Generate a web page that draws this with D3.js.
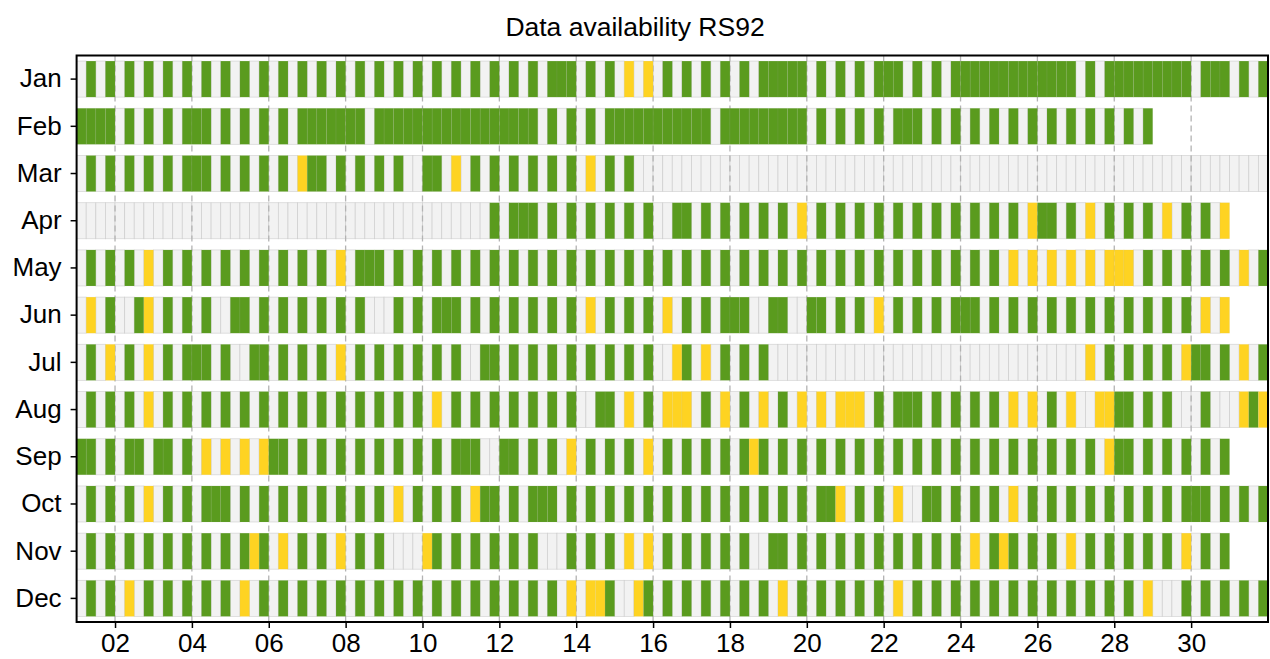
<!DOCTYPE html>
<html>
<head>
<meta charset="utf-8">
<title>Data availability RS92</title>
<script src="https://d3js.org/d3.v7.min.js"></script>
<style>
  body { margin: 0; background: #fff; }
  svg text { font-family: "Liberation Sans", Arial, sans-serif; fill: #000; }
</style>
</head>
<body>
<svg id="chart" width="1270" height="659"></svg>
<script>
// Months (rows) and number of days in each
const months = ["Jan", "Feb", "Mar", "Apr", "May", "Jun", "Jul", "Aug", "Sep", "Oct", "Nov", "Dec"];
const daysInMonth = [31, 28, 31, 30, 31, 30, 31, 31, 30, 31, 30, 31];
const dayTicks = [2, 4, 6, 8, 10, 12, 14, 16, 18, 20, 22, 24, 26, 28, 30];

// Status per 6-hour slot, four slots per day:
// "." no data, "g" data available, "y" partial data
const jan = ".g.g .g.g .g.g .g.g .g.g .g.g .g.g .g.g .g.g .g.g .g.g .g.g .ggg .g.g .y.y .g.g .g.g .g.g gggg .g.g .g.g gg.g .g.g gggg gggg gggg .g.g gggg gggg .ggg .g.g";
const feb = "gggg .g.g .g.g gg.g .g.g .g.g gggg gg.g gggg gggg gggg gggg .g.g .g.g gggg gggg gg.g gggg gggg .g.g .g.g .ggg .g.g .g.g .g.g .g.g .g.g .g.g";
const mar = ".g.g .g.g .g.g gg.g .g.g .g.y gg.g .g.g .g.. gg.y .g.g .g.g .g.g .y.g .g.. .... .... .... .... .... .... .... .... .... .... .... .... .... .... .... ....";
const apr = ".... .... .... .... .... .... .... .... .... .... ...g .ggg .g.g .g.g .g.g ..gg .g.g .g.g .g.y .g.g .g.g .g.g .g.g .g.g .g.y gg.g .y.g .g.g .y.g .g.y";
const may = ".g.g .g.y .g.g .g.g .g.g .g.g .g.y .ggg .g.g .g.g .g.g .g.g .g.g .g.g .g.g .g.g .g.g .g.g .g.g .g.g .g.g .g.g .g.g .g.g .y.y .y.y .y.y yy.g .g.g .g.g .y.g";
const jun = ".y.g ..gy .g.g .g.. gg.g .g.g .g.g .g.. .g.g .ggg .g.g .g.g .g.g .y.g .g.g .y.g .g.g gg.. gg.. gg.g .g.y .g.g .g.g gg.g .g.g .g.g .g.g .g.g .g.g .y.y";
const jul = ".g.y .g.y .g.g gg.g ..gg .g.g .g.y .g.g .g.g .g.g ..gg .g.g .g.g .g.g .g.g ..yg .y.g .g.g .... .... .... .... .... .... .... .... .y.g .g.g .g.y gg.g .y.g";
const aug = ".g.g .g.y .g.g .g.g .g.g .g.g .g.g .g.g .g.g .y.g .g.g .g.g .g.g ..gg .y.g .yyy .g.y .g.y .g.y .y.y yy.g .ggg .g.g .g.g .y.y .g.y ..yy gg.g .g.. .g.. .ygy";
const sep = "gg.g .gg. gg.g .y.y .y.y gg.g .g.g .g.g .g.g .g.g gg.. gg.g .g.y .g.g .g.y .g.g .g.g .gyg .g.g .g.g .g.g .g.g .g.g .g.g .g.g .g.g .g.y gg.g .g.g .g.g";
const oct = ".g.g .g.y .g.g .ggg .g.g .g.g .g.g .g.g .y.g .g.g .ygg .g.g gg.g .g.g .g.g .g.g .g.g .g.g .g.g .ggy .g.g .y.. gg.g .g.g .y.g .g.g .g.g .g.g .g.g gg.g .g.g";
const nov = ".g.g .g.g .g.g .g.g .gyg .y.g .g.y .g.g .... yg.g .g.g .g.g ...g .g.g .y.y .g.g .g.g .g.. gg.g .g.g .g.g .g.g .g.g .y.g yg.g .g.y .g.g .g.g .g.y .g.g";
const dec = ".g.g .y.g .g.g .g.g .y.g .g.g .g.g .g.g .g.g .g.g .g.g .g.g .g.y .yyg ..yg .g.g .g.g .g.g .y.g .g.g .g.g .y.g .g.g .g.g .g.g .g.g .g.g .g.y ...g .g.g .g.g";

const monthStatus = [jan, feb, mar, apr, may, jun, jul, aug, sep, oct, nov, dec];
const slotsPerDay = 4;

const statusColor = { ".": "#f2f2f2", "g": "#5a9b1e", "y": "#fed322" };
const statusEdge = { ".": "rgba(190,190,190,0.55)", "g": "rgba(170,170,170,0.12)", "y": "rgba(170,170,170,0.12)" };

// One record per 6-hour cell
const cells = [];
monthStatus.forEach((s, mi) => {
  const codes = s.replace(/ /g, "").split("");
  codes.slice(0, daysInMonth[mi] * slotsPerDay).forEach((c, k) => {
    cells.push({
      month: months[mi],
      start: 1 + k / slotsPerDay,
      status: c
    });
  });
});

const svg = d3.select("#chart");
const width = 1270, height = 659;
const margin = { top: 55.5, right: 2, bottom: 37, left: 76.6 };

const x = d3.scaleLinear()
    .domain([1, 32])
    .range([margin.left, width - margin.right]);

const y = d3.scaleBand()
    .domain(months)
    .range([margin.top, height - margin.bottom])
    .paddingInner(0.236)
    .paddingOuter(0.118);

const cellW = x(1 + 1 / slotsPerDay) - x(1);

svg.append("rect")
    .attr("width", width)
    .attr("height", height)
    .attr("fill", "#fff");

// Title
svg.append("text")
    .attr("x", width / 2)
    .attr("y", 36)
    .attr("text-anchor", "middle")
    .style("font-size", "26.5px")
    .text("Data availability RS92");

const drawCells = (data) => {
  svg.append("g").selectAll("rect")
      .data(data)
    .enter().append("rect")
      .attr("x", d => x(d.start))
      .attr("y", d => y(d.month))
      .attr("width", cellW)
      .attr("height", y.bandwidth())
      .attr("fill", d => statusColor[d.status])
      .attr("stroke", d => statusEdge[d.status])
      .attr("stroke-width", 0.8);
};

// Missing slots first, then the grid, then the data slots on top
drawCells(cells.filter(d => d.status === "."));

svg.append("g").selectAll("line")
    .data(dayTicks)
  .enter().append("line")
    .attr("x1", d => x(d))
    .attr("x2", d => x(d))
    .attr("y1", margin.top)
    .attr("y2", height - margin.bottom)
    .attr("stroke", "#b3b3b3")
    .attr("stroke-width", 1.3)
    .attr("stroke-dasharray", "6,4");

drawCells(cells.filter(d => d.status !== "."));

// Axes
const xAxis = svg.append("g")
    .attr("transform", "translate(0," + (height - margin.bottom) + ")")
    .call(d3.axisBottom(x)
      .tickValues(dayTicks)
      .tickFormat(d3.format("02d"))
      .tickSize(6)
      .tickPadding(6)
      .tickSizeOuter(0));

const yAxis = svg.append("g")
    .attr("transform", "translate(" + margin.left + ",0)")
    .call(d3.axisLeft(y)
      .tickSize(6)
      .tickPadding(9)
      .tickSizeOuter(0));

[xAxis, yAxis].forEach(a => {
  a.select(".domain").remove();
  a.selectAll(".tick line").attr("stroke", "#000").attr("stroke-width", 1.5);
  a.selectAll(".tick text")
      .style("font-size", "26px")
      .style("font-family", "'Liberation Sans', Arial, sans-serif");
});

// Frame
svg.append("rect")
    .attr("x", margin.left)
    .attr("y", margin.top)
    .attr("width", width - margin.left - margin.right)
    .attr("height", height - margin.top - margin.bottom)
    .attr("fill", "none")
    .attr("stroke", "#000")
    .attr("stroke-width", 2);
</script>
</body>
</html>
